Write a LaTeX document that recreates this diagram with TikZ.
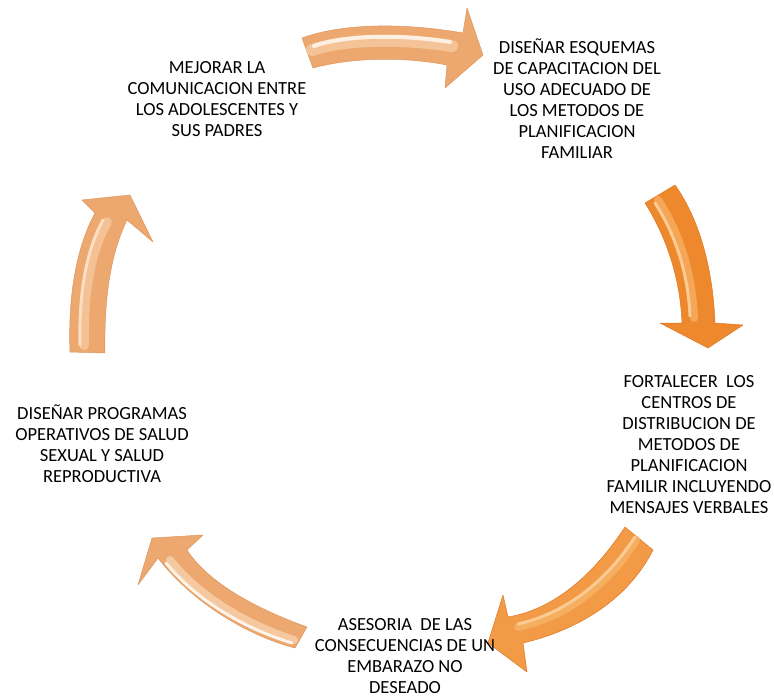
\documentclass[tikz,border=0pt]{standalone}
\usepackage{fontspec}
\setmainfont{Carlito}
\definecolor{peach}{RGB}{236,168,110}
\definecolor{peachdark}{RGB}{222,150,95}
\definecolor{peachlight}{RGB}{250,214,180}
\definecolor{orng}{RGB}{238,136,44}
\definecolor{orngdark}{RGB}{222,120,35}
\definecolor{ornglight}{RGB}{250,190,120}
\definecolor{orngmid}{RGB}{242,154,70}
\begin{document}
\begin{tikzpicture}[x=1pt,y=-1pt,
  lbl/.style={align=center,inner sep=0pt,font=\fontsize{18.5}{21}\selectfont},
  pbody/.style={fill=peach,draw=peachdark,line width=0.5pt,line join=round},
  obody/.style={fill=orng,draw=orngdark,line width=0.5pt,line join=round},
  mbody/.style={fill=orngmid,draw=orngdark,line width=0.5pt,line join=round},
  hl/.style={line cap=round,line width=#1},
]
\useasboundingbox (0,0) rectangle (774,699);
% top arrow
\path[pbody]
 (302,38) .. controls (340,24) and (400,22) .. (463,33) -- (467,8) -- (483,55) -- (445,88) -- (447,65)
 .. controls (400,56) and (350,58) .. (313,68) -- cycle;
\draw[hl=12pt,peachlight!60!peach] (312,50) .. controls (345,39) and (400,38) .. (452,46);
\draw[hl=4pt,white!60!peachlight] (314,46) .. controls (345,35) and (400,34) .. (450,42);
% right arrow
\path[obody]
 (675,185) .. controls (700,220) and (713,270) .. (715,323) -- (743,325) -- (708,348) -- (660,323) -- (682,323)
 .. controls (680,275) and (665,235) .. (645,203) -- cycle;
\draw[hl=8pt,ornglight!55!orng] (658,200) .. controls (679,232) and (692,272) .. (694,318);
\draw[hl=3pt,ornglight!80!white] (655,203) .. controls (675,234) and (688,272) .. (690,316);
% bottom-right arrow
\path[mbody]
 (625,527) .. controls (590,580) and (550,610) .. (508,617) -- (503,595) -- (488,643) -- (527,672) -- (523,643)
 .. controls (570,632) and (625,605) .. (653,550) -- cycle;
\draw[hl=8pt,ornglight!55!orngmid] (636,540) .. controls (603,592) and (560,618) .. (518,627);
\draw[hl=3pt,ornglight!80!white] (635,537) .. controls (601,589) and (558,615) .. (518,624);
% bottom-left arrow
\path[pbody]
 (307,627) .. controls (260,610) and (210,585) .. (187,550) -- (203,535) -- (152,538) -- (138,585) -- (158,558)
 .. controls (190,600) and (245,635) .. (295,648) -- cycle;
\draw[hl=8pt,peachlight!70!peach] (294,640) .. controls (248,625) and (200,598) .. (170,560);
\draw[hl=3pt,white!70!peachlight] (292,643) .. controls (246,629) and (198,602) .. (166,563);
% left arrow
\path[pbody]
 (70,352) .. controls (68,300) and (75,250) .. (95,213) -- (82,200) -- (130,195) -- (153,242) -- (127,220)
 .. controls (110,255) and (104,300) .. (105,353) -- cycle;
\draw[hl=10pt,peachlight!55!peach] (84,345) .. controls (83,300) and (88,255) .. (107,222);
\draw[hl=3pt,peachlight!80!white] (80,345) .. controls (79,300) and (84,255) .. (103,220);

\node[lbl] (t1) at (217,99) {MEJORAR LA\\COMUNICACION ENTRE\\LOS ADOLESCENTES Y\\SUS PADRES};
\node[lbl] (t2) at (577,99) {DISEÑAR ESQUEMAS\\DE CAPACITACION DEL\\USO ADECUADO DE\\LOS METODOS DE\\PLANIFICACION\\FAMILIAR};
\node[lbl] (t3) at (689,445) {FORTALECER\ \ LOS\\CENTROS DE\\DISTRIBUCION DE\\METODOS DE\\PLANIFICACION\\FAMILIR INCLUYENDO\\MENSAJES VERBALES};
\node[lbl] (t4) at (405,656) {ASESORIA\ \ DE LAS\\CONSECUENCIAS DE UN\\EMBARAZO NO\\DESEADO};
\node[lbl] (t5) at (102,444) {DISEÑAR PROGRAMAS\\OPERATIVOS DE SALUD\\SEXUAL Y SALUD\\REPRODUCTIVA};
\end{tikzpicture}
\end{document}
